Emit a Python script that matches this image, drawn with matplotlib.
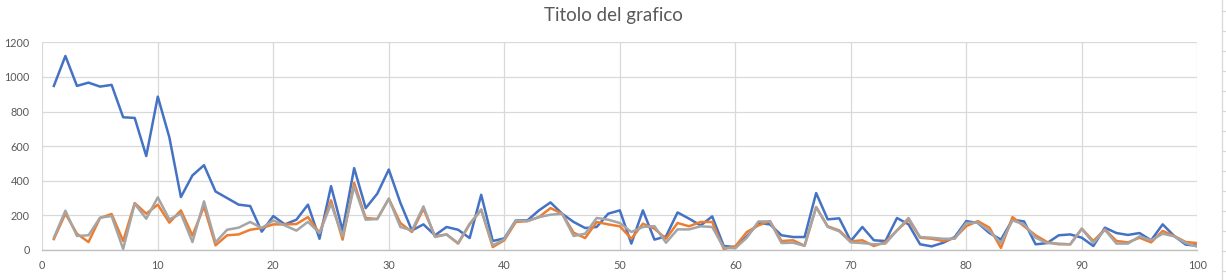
import matplotlib
matplotlib.use("Agg")
import matplotlib.pyplot as plt
from matplotlib.lines import Line2D
import numpy as np

x = np.arange(1, 101)

serie1 = [948, 1121, 948, 967, 944, 954, 767, 763, 543, 886,
          651, 306, 431, 490, 338, 300, 262, 254, 106, 196,
          148, 175, 262, 65, 369, 113, 473, 242, 325, 465,
          273, 113, 148, 85, 133, 117, 69, 319, 52, 67,
          171, 171, 229, 275, 210, 162, 127, 133, 210, 229,
          37, 229, 60, 79, 217, 181, 142, 194, 23, 17,
          79, 156, 148, 85, 75, 75, 329, 177, 183, 52,
          133, 56, 52, 185, 148, 33, 21, 42, 75, 167,
          156, 98, 60, 175, 165, 33, 40, 85, 90, 71,
          23, 129, 98, 87, 98, 56, 148, 81, 31, 25]

serie2 = [63, 210, 94, 46, 185, 208, 52, 271, 210, 262,
          158, 229, 83, 252, 27, 85, 90, 117, 127, 148,
          148, 150, 190, 98, 287, 60, 388, 185, 179, 296,
          156, 104, 238, 79, 90, 37, 148, 233, 17, 56,
          162, 167, 190, 242, 210, 100, 69, 162, 148, 137,
          65, 152, 123, 65, 156, 137, 162, 162, 6, 21,
          104, 142, 167, 52, 56, 25, 248, 137, 113, 50,
          56, 23, 46, 113, 175, 71, 65, 52, 69, 138,
          167, 129, 12, 190, 137, 85, 46, 33, 33, 123,
          52, 119, 52, 44, 71, 44, 110, 81, 46, 40]

serie3 = [71, 227, 81, 85, 187, 196, 6, 267, 181, 304,
          177, 210, 46, 281, 44, 117, 129, 162, 127, 171,
          142, 112, 163, 98, 267, 79, 367, 175, 179, 296,
          133, 113, 252, 75, 90, 40, 152, 233, 27, 62,
          171, 167, 190, 204, 210, 81, 94, 185, 175, 156,
          104, 133, 138, 42, 119, 119, 137, 133, 13, 10,
          71, 165, 165, 40, 42, 24, 248, 133, 108, 44,
          40, 33, 37, 113, 185, 75, 71, 65, 65, 156,
          158, 110, 40, 171, 148, 71, 40, 37, 33, 123,
          40, 117, 37, 37, 79, 56, 94, 79, 40, 19]

titolo = "Titolo del grafico"

plt.rcParams['font.family'] = ['Lato', 'DejaVu Sans']

fig = plt.figure(figsize=(12.26, 2.8), dpi=100)
ax = fig.add_axes([42.3 / 1226, 1 - 250 / 280, (1197.3 - 42.3) / 1226, (250 - 42.3) / 280])

ax.plot(x, serie1, color='#4472C4', lw=1.8, solid_joinstyle='round', zorder=3)
ax.plot(x, serie2, color='#ED7D31', lw=1.8, solid_joinstyle='round', zorder=4)
ax.plot(x, serie3, color='#A5A5A5', lw=1.8, solid_joinstyle='round', zorder=5)

ax.set_xlim(0, 100)
ax.set_ylim(0, 1200)
ax.set_xticks(np.arange(0, 101, 10))
ax.set_yticks(np.arange(0, 1201, 200))
ax.grid(True, color='#D9D9D9', lw=0.9)
ax.set_axisbelow(True)
for s in ['top', 'right', 'left']:
    ax.spines[s].set_visible(False)
ax.spines['bottom'].set_color('#BFBFBF')
ax.spines['bottom'].set_linewidth(1.0)
ax.tick_params(length=0, labelsize=7.8, labelcolor='#595959')
ax.tick_params(axis='y', pad=9)
ax.tick_params(axis='x', pad=7)

fig.suptitle(titolo, y=0.975, fontsize=13.5, color='#595959')

# bordo a destra (residuo del foglio)
fig.add_artist(Line2D([1221.6 / 1226, 1221.6 / 1226], [0, 1], color='#D9D9D9', lw=0.9))
for yy in np.arange(10.7, 280, 20):
    fig.add_artist(Line2D([1221.6 / 1226, 1226 / 1226], [1 - yy / 280, 1 - yy / 280],
                          color='#D9D9D9', lw=0.9))

fig.savefig('out.png', dpi=100)
